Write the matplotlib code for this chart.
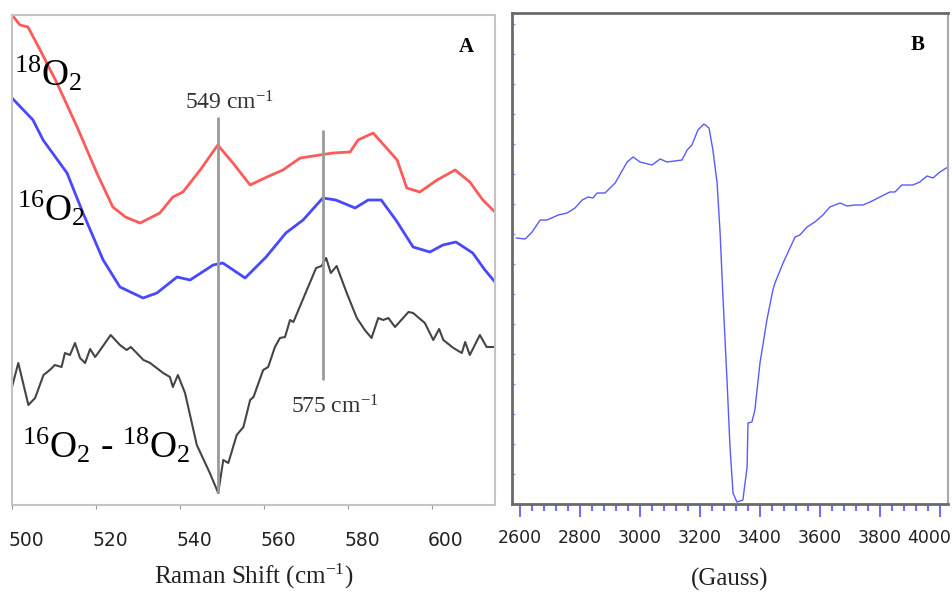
import matplotlib
matplotlib.use("Agg")
import matplotlib.pyplot as plt
import matplotlib.transforms as mtransforms
import numpy as np

plt.rcParams['mathtext.fontset'] = 'custom'
plt.rcParams['mathtext.rm'] = 'Liberation Serif'
plt.rcParams['mathtext.it'] = 'Liberation Serif:italic'
plt.rcParams['mathtext.bf'] = 'Liberation Serif:bold'

# Panel A: Raman spectra (intensity in arbitrary units)
red_x = [500, 501.9, 503.8, 506.7, 510.7, 515.5, 520.2, 524, 527, 530.5, 535.2, 538.3, 540.7,
         544.8, 549, 552.6, 556.7, 560.7, 564.5, 568.6, 573.3, 576.4, 580.5, 582.4, 586,
         591.7, 594, 597.1, 601.2, 605.5, 609, 612.1, 615]
red_y = [490, 480, 478, 455, 422, 378, 332, 298, 288, 282, 292, 308, 313,
         335, 360, 342, 320, 328, 335, 347, 350, 352, 353, 365, 372,
         345, 317, 313, 325, 335, 323, 305, 293]

blue_x = [500, 505, 507.4, 513.1, 516.9, 521.7, 525.7, 531.2, 534.5, 539.3, 542.4, 547.9,
          550.2, 555.5, 560.5, 565.2, 569.3, 574, 577.1, 581.7, 584.8, 587.9, 591.4, 595.5,
          599.5, 602.6, 605.7, 609.7, 612.6, 615]
blue_y = [407, 385, 365, 332, 292, 245, 218, 207, 212, 228, 225, 240,
          242, 227, 248, 272, 285, 307, 305, 297, 305, 305, 285, 258,
          253, 260, 263, 252, 235, 223]

diff_x = [500, 501.5, 503.9, 505.5, 507.5, 509, 510.2, 511.8, 512.6, 513.8, 515, 516.2,
          517.4, 518.6, 519.8, 521, 523.5, 525.7, 527.3, 528.3, 531.3, 532.9, 536, 537.6,
          538.3, 539.5, 541.2, 544, 547.1, 549.1, 550.3, 551.5, 553.5, 555.1, 556.7, 557.5,
          559.8, 561, 562.6, 563.8, 565, 566.2, 567, 568.2, 570.5, 572.4, 573.7, 574.8,
          575.9, 577.3, 579.7, 582.1, 584, 585.6, 587.2, 588.4, 589.6, 591.2, 594.4, 595.5,
          598.3, 600.3, 601.7, 602.7, 605.1, 607.1, 607.9, 609, 611.4, 613, 615]
diff_y = [118, 142, 100, 107, 130, 135, 140, 138, 152, 150, 162, 147,
          142, 156, 148, 155, 170, 160, 155, 158, 145, 142, 132, 128,
          118, 130, 112, 60, 32, 12, 45, 42, 70, 78, 105, 108,
          135, 138, 158, 167, 168, 185, 183, 195, 218, 237, 239, 247,
          232, 239, 212, 187, 175, 167, 187, 185, 187, 178, 193, 192,
          182, 165, 176, 165, 157, 152, 163, 150, 170, 158, 158]

# Panel B: EPR spectrum
epr_x = [2587, 2617, 2640, 2667, 2690, 2727, 2757, 2783, 2807, 2827, 2843, 2857, 2883,
         2917, 2957, 2977, 3000, 3040, 3067, 3090, 3140, 3157, 3173, 3193, 3213, 3230,
         3243, 3257, 3267, 3277, 3290, 3300, 3310, 3323, 3343, 3357, 3360, 3373, 3383,
         3400, 3423, 3443, 3450, 3477, 3517, 3533, 3557, 3583, 3610, 3633, 3667, 3690,
         3717, 3743, 3767, 3800, 3833, 3850, 3873, 3910, 3933, 3957, 3977, 4000, 4027]
epr_y = [266, 265, 272, 284, 284, 289, 291, 296, 304, 307, 306, 311, 311,
         321, 342, 347, 342, 339, 345, 342, 344, 354, 359, 374, 380, 376,
         354, 321, 271, 204, 124, 57, 11, 2, 4, 37, 81, 82, 94,
         141, 184, 214, 221, 241, 267, 269, 277, 282, 289, 297, 301, 298,
         299, 299, 302, 307, 312, 312, 319, 319, 322, 328, 326, 332, 337]

fig = plt.figure(figsize=(9.53, 5.93), dpi=100)

# ---- panel A ----
axA = fig.add_axes([12/953, 88/593, 483/953, 490/593])
axA.plot(red_x, red_y, color='#ff5a5a', lw=2)
axA.plot(blue_x, blue_y, color='#4848ff', lw=2)
axA.plot(diff_x, diff_y, color='#454545', lw=1.5)
axA.vlines(549, 12, 388, color='#9a9a9a', lw=2)
axA.vlines(574, 125, 375, color='#9a9a9a', lw=2)
axA.set_xlim(500, 615)
axA.set_ylim(0, 490)
axA.set_yticks([])
axA.set_xticks([500, 520, 540, 560, 580, 600])
axA.tick_params(axis='x', direction='out', length=3, color='#999999', labelsize=13.5,
                labelcolor='#222222', pad=16)
off = mtransforms.ScaledTranslation(0.14, 0, fig.dpi_scale_trans)
for lab in axA.get_xticklabels():
    lab.set_transform(lab.get_transform() + off)
for s in axA.spines.values():
    s.set_color('#c4c4c4')
    s.set_linewidth(1.5)
axA.set_xlabel(r'Raman Shift (cm$^{\mathdefault{-1}}$)', family='Liberation Serif',
               fontsize=18, labelpad=8, color='#222222')

serif = dict(family='Liberation Serif', color='black')
axA.text(0.005, 0.88, r'$^{18}$O$_2$', transform=axA.transAxes, fontsize=27,
         va='center', ha='left', **serif)
axA.text(0.01, 0.605, r'$^{16}$O$_2$', transform=axA.transAxes, fontsize=27,
         va='center', ha='left', **serif)
axA.text(0.02, 0.12, r'$^{16}$O$_2$ - $^{18}$O$_2$', transform=axA.transAxes,
         fontsize=27, va='center', ha='left', **serif)
axA.text(0.94, 0.935, 'A', transform=axA.transAxes, fontsize=15, fontweight='bold',
         va='center', ha='center', **serif)
axA.text(0.45, 0.82, r'549 cm$^{-1}$', transform=axA.transAxes, fontsize=17,
         va='center', ha='center', family='Liberation Serif', color='#333333')
axA.text(0.668, 0.2, r'575 cm$^{-1}$', transform=axA.transAxes, fontsize=17,
         va='center', ha='center', family='Liberation Serif', color='#333333')

# ---- panel B ----
axB = fig.add_axes([512/953, 89/593, 436/953, 491/593])
axB.plot(epr_x, epr_y, color='#5a5aff', lw=1)
axB.set_xlim(2573, 4027)
axB.set_ylim(0, 491)
axB.set_xticks(np.arange(2600, 4001, 200))
axB.set_xticks(np.arange(2600, 4001, 40), minor=True)
axB.set_yticks(np.arange(30, 491, 30))
axB.set_yticklabels([])
axB.tick_params(axis='x', which='major', direction='out', length=9, width=1.5,
                color='#7070ff', labelsize=12.5, labelcolor='#222222', pad=9)
axB.tick_params(axis='x', which='minor', direction='out', length=5, width=1.5,
                color='#7070ff')
axB.tick_params(axis='y', direction='in', length=2, width=1, color='#9a9aff')
last = axB.get_xticklabels()[-1]
last.set_transform(last.get_transform() + mtransforms.ScaledTranslation(-0.11, 0, fig.dpi_scale_trans))
for side in ['top', 'left', 'bottom']:
    axB.spines[side].set_color('#6a6a6a')
    axB.spines[side].set_linewidth(2)
axB.spines['right'].set_color('#a8a8a8')
axB.spines['right'].set_linewidth(1.5)
axB.set_xlabel('(Gauss)', family='Liberation Serif', fontsize=18, labelpad=15,
               color='#222222')
axB.text(0.931, 0.935, 'B', transform=axB.transAxes, fontsize=15, fontweight='bold',
         va='center', ha='center', **serif)

fig.savefig('out.png', dpi=100)
